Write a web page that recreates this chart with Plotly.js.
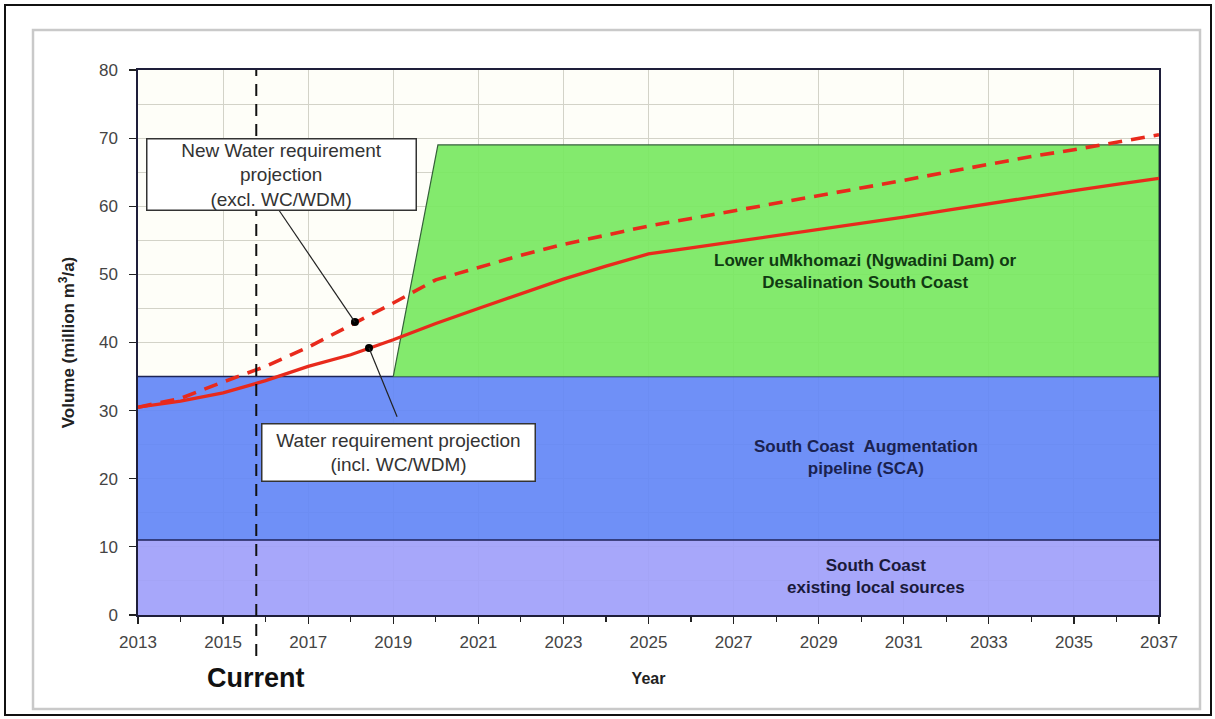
<!DOCTYPE html>
<html>
<head>
<meta charset="utf-8">
<script src="https://cdn.plot.ly/plotly-3.0.1.min.js"></script>
<style>html,body{margin:0;padding:0;background:#fff;}#chart{width:1215px;height:719px;}</style>
</head>
<body>
<div id="chart"></div>
<script>
// ---------- data ----------
const years = [2013, 2014, 2015, 2016, 2017, 2018, 2019, 2020, 2021, 2022, 2023, 2024, 2025,
               2026, 2027, 2028, 2029, 2030, 2031, 2032, 2033, 2034, 2035, 2036, 2037];
const demandInclWCWDM = [30.5, 31.4, 32.6, 34.4, 36.5, 38.2, 40.4, 42.8, 45.0, 47.2, 49.3, 51.2, 53.0,
                         53.9, 54.8, 55.6, 56.5, 57.4, 58.4, 59.4, 60.4, 61.3, 62.3, 63.2, 64.1];
const demandExclWCWDM = [30.5, 31.8, 34.2, 36.5, 39.3, 42.5, 45.8, 49.2, 51.0, 52.8, 54.4, 55.8, 57.1,
                         58.2, 59.3, 60.4, 61.5, 62.6, 63.8, 65.0, 66.2, 67.3, 68.3, 69.4, 70.5];
const bandYears = [2013, 2037];
const localSourcesCap = [11, 11];
const scaCap = [35, 35];
const ngwadiniYears = [2019, 2020.05, 2037, 2037];
const ngwadiniVol = [35, 69, 69, 35];
const currentYear = 2015.78;
const calloutYears = [2018.1, 2018.43];
const calloutVol = [43.0, 39.2];
const labelLocal = 'South Coast<br>existing local sources';
const labelSCA = 'South Coast\u00A0\u00A0Augmentation<br>pipeline (SCA)';
const labelNgwadini = 'Lower uMkhomazi (Ngwadini Dam) or<br>Desalination South Coast';
const labelExcl = 'New Water requirement<br>projection<br>(excl. WC/WDM)';
const labelIncl = 'Water requirement projection<br>(incl. WC/WDM)';

// ---------- layout helpers (pixel -> paper) ----------
const L = 138, R = 1159, T = 70, B = 615;
const px = v => (v - L) / (R - L);
const py = v => (B - v) / (B - T);
const FONT = 'Liberation Sans, Arial, sans-serif';

const traces = [
  {x: bandYears, y: localSourcesCap, type: 'scatter', mode: 'lines', fill: 'tozeroy',
   fillcolor: 'rgba(160,160,250,0.93)', line: {color: '#1e2258', width: 1.6}, hoverinfo: 'skip'},
  {x: bandYears, y: scaCap, type: 'scatter', mode: 'lines', fill: 'tonexty',
   fillcolor: 'rgba(100,136,246,0.93)', line: {color: '#1c2456', width: 1.6}, hoverinfo: 'skip'},
  {x: ngwadiniYears, y: ngwadiniVol, type: 'scatter', mode: 'lines', fill: 'toself',
   fillcolor: 'rgba(122,232,98,0.93)', line: {color: '#35603a', width: 1.2}, hoverinfo: 'skip'},
  {x: years, y: demandExclWCWDM, type: 'scatter', mode: 'lines',
   line: {color: '#e82a1c', width: 3.6, dash: '14px,9px'}},
  {x: years, y: demandInclWCWDM, type: 'scatter', mode: 'lines',
   line: {color: '#e82a1c', width: 3.3}},
  {x: calloutYears, y: calloutVol, type: 'scatter', mode: 'markers',
   marker: {color: '#000', size: 8}}
];

const layout = {
  width: 1215, height: 719, autosize: false,
  margin: {l: L, r: 1215 - R, t: T, b: 719 - B},
  paper_bgcolor: '#ffffff', plot_bgcolor: '#fefef8',
  showlegend: false,
  font: {family: FONT, color: '#444'},
  xaxis: {
    range: [2013, 2037], tick0: 2013, dtick: 2, ticks: 'outside', ticklen: 7, tickwidth: 1.2,
    tickcolor: '#222', showline: true, linecolor: '#1e1e3a', linewidth: 1.6, mirror: true,
    showgrid: true, gridcolor: '#d3d3c8', gridwidth: 1, zeroline: false,
    ticklabelstandoff: 4,
    tickfont: {family: FONT, size: 17, color: '#444'},
    minor: {dtick: 1, ticks: 'outside', ticklen: 5, tickcolor: '#222', showgrid: false},
    title: {text: 'Year', standoff: 22, font: {family: FONT, size: 16, color: '#222', weight: 'bold'}}
  },
  yaxis: {
    range: [0, 80], dtick: 10, ticks: 'outside', ticklen: 7, tickwidth: 1.2, tickcolor: '#222',
    showline: true, linecolor: '#1e1e3a', linewidth: 1.6, mirror: true,
    showgrid: true, gridcolor: '#d3d3c8', gridwidth: 1, zeroline: false,
    ticklabelstandoff: 8,
    tickfont: {family: FONT, size: 17, color: '#444'},
    minor: {dtick: 5, ticks: '', showgrid: true, gridcolor: '#d3d3c8', gridwidth: 1},
    title: {text: 'Volume (million m<sup>3</sup>/a)', standoff: 20,
            font: {family: FONT, size: 17, color: '#222', weight: 'bold'}}
  },
  shapes: [
    {type: 'rect', xref: 'paper', yref: 'paper', x0: px(5), x1: px(1211), y0: py(715), y1: py(5),
     line: {color: '#111', width: 2}, layer: 'below'},
    {type: 'rect', xref: 'paper', yref: 'paper', x0: px(33), x1: px(1200), y0: py(709), y1: py(30),
     line: {color: '#c9c9c9', width: 2.5}, layer: 'below'},
    {type: 'line', xref: 'x', yref: 'paper', x0: currentYear, x1: currentYear, y0: py(656), y1: 1,
     line: {color: '#111', width: 2, dash: '12px,8px'}},
    {type: 'line', xref: 'x', yref: 'y', x0: 2016.31, y0: 59.45, x1: calloutYears[0], y1: calloutVol[0],
     line: {color: '#222', width: 1.2}},
    {type: 'line', xref: 'x', yref: 'y', x0: 2019.09, y0: 29.1, x1: calloutYears[1], y1: calloutVol[1],
     line: {color: '#222', width: 1.2}}
  ],
  annotations: [
    {xref: 'x', yref: 'y', x: 2030.11, y: 50.35, text: labelNgwadini, showarrow: false,
     font: {family: FONT, size: 17, color: '#103a12', weight: 'bold'}},
    {xref: 'x', yref: 'y', x: 2030.11, y: 23.05, text: labelSCA, showarrow: false,
     font: {family: FONT, size: 17, color: '#1a2250', weight: 'bold'}},
    {xref: 'x', yref: 'y', x: 2030.35, y: 5.58, text: labelLocal, showarrow: false,
     font: {family: FONT, size: 17, color: '#1a1a3a', weight: 'bold'}},
    {xref: 'x', yref: 'y', x: 2016.37, y: 64.6, text: labelExcl, showarrow: false,
     bgcolor: '#ffffff', bordercolor: '#333', borderwidth: 1.5, borderpad: 0, width: 268,
     font: {family: FONT, size: 19, color: '#333'}},
    {xref: 'x', yref: 'y', x: 2019.12, y: 23.9, text: labelIncl, showarrow: false,
     bgcolor: '#ffffff', bordercolor: '#333', borderwidth: 1.5, borderpad: 5, width: 262,
     font: {family: FONT, size: 19, color: '#333'}},
    {xref: 'x', yref: 'paper', x: currentYear, y: py(678), yanchor: 'middle', text: 'Current',
     showarrow: false, font: {family: FONT, size: 27, color: '#111', weight: 'bold'}}
  ]
};

Plotly.newPlot('chart', traces, layout, {displayModeBar: false, staticPlot: true});
</script>
</body>
</html>
